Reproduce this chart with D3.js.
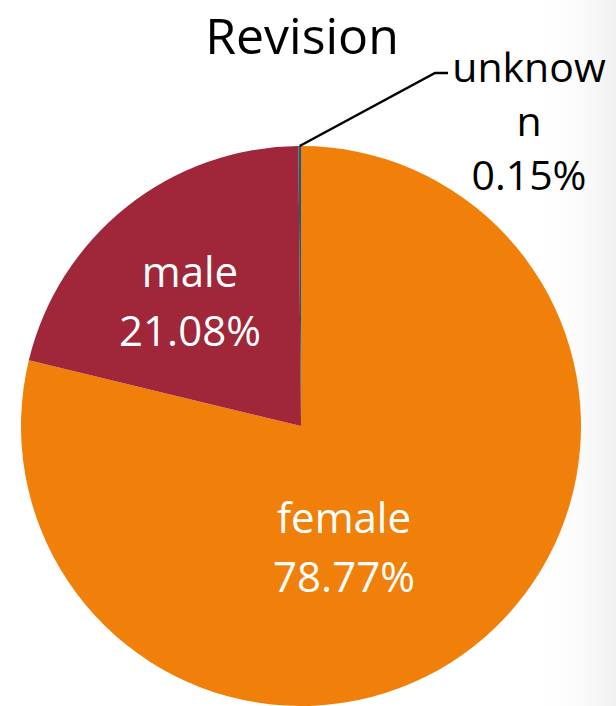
<!DOCTYPE html>
<html>
<head>
<meta charset="utf-8">
<script src="https://cdn.jsdelivr.net/npm/d3@7"></script>
<style>
  body{margin:0;background:#fff;}
  svg{display:block;}
  text{font-family:"Open Sans","Noto Sans",sans-serif;}
</style>
</head>
<body>
<svg id="chart" width="616" height="706"></svg>
<script>
// data
var categories = ["female","male","unknown"];
var shares     = [78.77, 21.08, 0.15];
var colors     = ["#F0800A","#A0263A","#22597A"];
var labelLines = [["female","78.77%"],["male","21.08%"],["unknow","n","0.15%"]];

var svg=d3.select("#chart");
var W=616,H=706;

// faint shade on the right edge
var defs=svg.append("defs");
var grad=defs.append("linearGradient").attr("id","shade").attr("x1","0").attr("x2","1");
grad.append("stop").attr("offset","0").attr("stop-color","#fff").attr("stop-opacity",0);
grad.append("stop").attr("offset","1").attr("stop-color","#f0f0f0").attr("stop-opacity",1);
svg.append("rect").attr("x",530).attr("y",0).attr("width",W-530).attr("height",H).attr("fill","url(#shade)");

svg.append("text")
    .attr("x",302).attr("y",54)
    .attr("text-anchor","middle")
    .attr("font-size",50)
    .attr("fill","#000")
    .text("Revision");

var cx=301, cy=426, r=280;
var data=categories.map(function(c,i){return {name:c,value:shares[i],color:colors[i],lines:labelLines[i]};});

var pie=d3.pie().sort(null).value(function(d){return d.value;});
var arc=d3.arc().innerRadius(0).outerRadius(r);
var arcs=pie(data);

var g=svg.append("g").attr("transform","translate("+cx+","+cy+")");
g.selectAll("path.slice").data(arcs).enter().append("path")
    .attr("class","slice")
    .attr("d",arc)
    .attr("fill",function(d){return d.data.color;});

// in-slice labels
var inPos={female:[43,107],male:[-111,-139]};
var lineGap=59;
arcs.forEach(function(a){
    var p=inPos[a.data.name];
    if (!p) return;
    var t=g.append("text").attr("text-anchor","middle").attr("fill","#fff").attr("font-size",42);
    a.data.lines.forEach(function(s,i){
        t.append("tspan").attr("x",p[0]).attr("y",p[1]+i*lineGap).text(s);
    });
});

// outside label for tiny slice
var small=arcs[2];
var mid=(small.startAngle+small.endAngle)/2;
var sx=Math.sin(mid)*r, sy=-Math.cos(mid)*r;
g.append("polyline")
    .attr("points",[[sx,sy],[134,-353],[147,-353]].map(function(p){return p.join(",");}).join(" "))
    .attr("fill","none").attr("stroke","#000").attr("stroke-width",2.5);
var ut=g.append("text").attr("text-anchor","middle").attr("fill","#000").attr("font-size",41);
small.data.lines.forEach(function(s,i){
    ut.append("tspan").attr("x",228).attr("y",-344+i*54).text(s);
});
</script>
</body>
</html>
